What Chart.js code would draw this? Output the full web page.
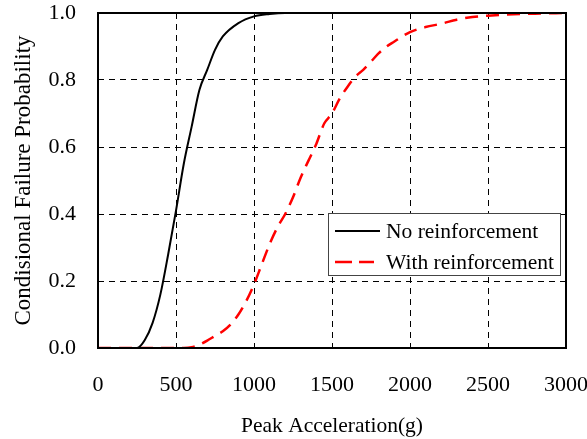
<!DOCTYPE html>
<html>
<head>
<meta charset="utf-8">
<script src="https://cdn.jsdelivr.net/npm/chart.js@4.4.1/dist/chart.umd.min.js"></script>
<style>
  html, body { margin: 0; padding: 0; background: #fff; }
  #wrap { width: 587px; height: 439px; }
</style>
</head>
<body>
<div id="wrap"><canvas id="chart-area1" width="587" height="439"></canvas></div>
<script>
// peak acceleration (g) vs probability
var accelNo = [0, 250, 300, 350, 400, 450, 500, 550, 600, 650, 700, 750, 800, 900, 1000, 1100, 1200, 3000];
var probNo = [0, 0, 0.024, 0.075, 0.16, 0.28, 0.41, 0.55, 0.66, 0.77, 0.83, 0.89, 0.93, 0.97, 0.99, 0.997, 1.0, 1.0];

var accelWith = [0, 550, 600, 650, 700, 750, 800, 850, 900, 950, 1000, 1050, 1100, 1150, 1200, 1250, 1300, 1350, 1400, 1450, 1500, 1550, 1600, 1650, 1700, 1750, 1800, 1850, 1900, 1950, 2000, 2100, 2200, 2300, 2400, 2500, 2600, 2800, 3000];
var probWith = [0, 0, 0.002, 0.01, 0.022, 0.036, 0.05, 0.07, 0.1, 0.14, 0.19, 0.25, 0.31, 0.36, 0.4, 0.45, 0.51, 0.56, 0.61, 0.67, 0.70, 0.745, 0.78, 0.81, 0.83, 0.855, 0.88, 0.9, 0.915, 0.93, 0.943, 0.958, 0.968, 0.98, 0.988, 0.992, 0.995, 0.998, 1.0];

var seriesNames = ['No reinforcement', 'With reinforcement'];
var xTitle = 'Peak Acceleration(g)';
var yTitle = 'Condisional Failure Probability';

var FONT = 'Liberation Serif, Times New Roman, serif';

function toPoints(xs, ys) {
    var pts = [];
    for (var i = 0; i < xs.length; i++) {
        pts.push({ x: xs[i], y: ys[i] });
    }
    return pts;
}

// frame round the plot + legend box inside it
var frameLegend = {
    id: 'frameLegend',
    afterDatasetsDraw: function (chart) {
        var ctx = chart.ctx;
        var a = chart.chartArea;
        ctx.save();
        ctx.setLineDash([]);
        ctx.lineWidth = 2;
        ctx.strokeStyle = '#000';
        ctx.strokeRect(a.left, a.top, a.right - a.left, a.bottom - a.top);

        // legend
        var bx = a.right - 238, by = a.top + 200, bw = 232, bh = 62;
        ctx.fillStyle = '#fff';
        ctx.fillRect(bx, by, bw, bh);
        ctx.lineWidth = 1;
        ctx.strokeStyle = '#444';
        ctx.strokeRect(bx + 0.5, by + 0.5, bw, bh);

        var ds = chart.data.datasets;
        ctx.font = '21.5px ' + FONT;
        ctx.textBaseline = 'middle';
        ctx.textAlign = 'left';
        for (var i = 0; i < ds.length; i++) {
            var ly = by + 18 + i * 31;
            ctx.beginPath();
            ctx.strokeStyle = ds[i].borderColor;
            ctx.lineWidth = ds[i].borderWidth;
            // legend sample: solid, or two long dashes
            ctx.setLineDash(ds[i].borderDash ? [17, 7] : []);
            ctx.moveTo(bx + 7, ly);
            ctx.lineTo(bx + (ds[i].borderDash ? 46 : 52), ly);
            ctx.stroke();
            ctx.setLineDash([]);
            ctx.fillStyle = '#000';
            ctx.fillText(ds[i].label, bx + 58, ly + 1);
        }
        ctx.restore();
    }
};

var config = {
    type: 'line',
    data: {
        datasets: [{
            label: seriesNames[0],
            data: toPoints(accelNo, probNo),
            borderColor: '#000',
            borderWidth: 2,
            pointRadius: 0,
            cubicInterpolationMode: 'monotone',
            fill: false
        }, {
            label: seriesNames[1],
            data: toPoints(accelWith, probWith),
            borderColor: '#ff0000',
            borderWidth: 2.5,
            borderDash: [13, 8],
            pointRadius: 0,
            cubicInterpolationMode: 'monotone',
            fill: false
        }]
    },
    options: {
        responsive: false,
        animation: false,
        events: [],
        layout: { padding: { top: 13, right: 21, left: 0, bottom: 0 } },
        plugins: {
            legend: { display: false },
            tooltip: { enabled: false }
        },
        scales: {
            x: {
                type: 'linear',
                min: 0,
                max: 3000,
                ticks: {
                    stepSize: 500,
                    color: '#000',
                    padding: 24,
                    font: { family: FONT, size: 22 },
                    maxRotation: 0,
                    callback: function (v) { return String(v); }
                },
                grid: { color: '#000', lineWidth: 1, drawTicks: false },
                border: { display: false, dash: [6, 5] },
                title: {
                    display: true,
                    text: xTitle,
                    color: '#000',
                    font: { family: FONT, size: 21.5 },
                    padding: { top: 14, bottom: 0 }
                },
                afterFit: function (scale) {
                    scale.height = 91;
                    scale.paddingLeft = 0;
                    scale.paddingRight = 0;
                }
            },
            y: {
                min: 0,
                max: 1,
                ticks: {
                    stepSize: 0.2,
                    color: '#000',
                    padding: 22,
                    font: { family: FONT, size: 22 },
                    callback: function (v) { return Number(v).toFixed(1); }
                },
                grid: { color: '#000', lineWidth: 1, drawTicks: false },
                border: { display: false, dash: [6, 5] },
                title: {
                    display: true,
                    text: yTitle,
                    color: '#000',
                    font: { family: FONT, size: 23 },
                    padding: { top: 10, bottom: 0 }
                },
                afterFit: function (scale) {
                    scale.width = 98;
                    scale.paddingTop = 0;
                    scale.paddingBottom = 0;
                }
            }
        }
    },
    plugins: [frameLegend]
};

var ctx = document.getElementById('chart-area1').getContext('2d');
var myChart = new Chart(ctx, config);
</script>
</body>
</html>
